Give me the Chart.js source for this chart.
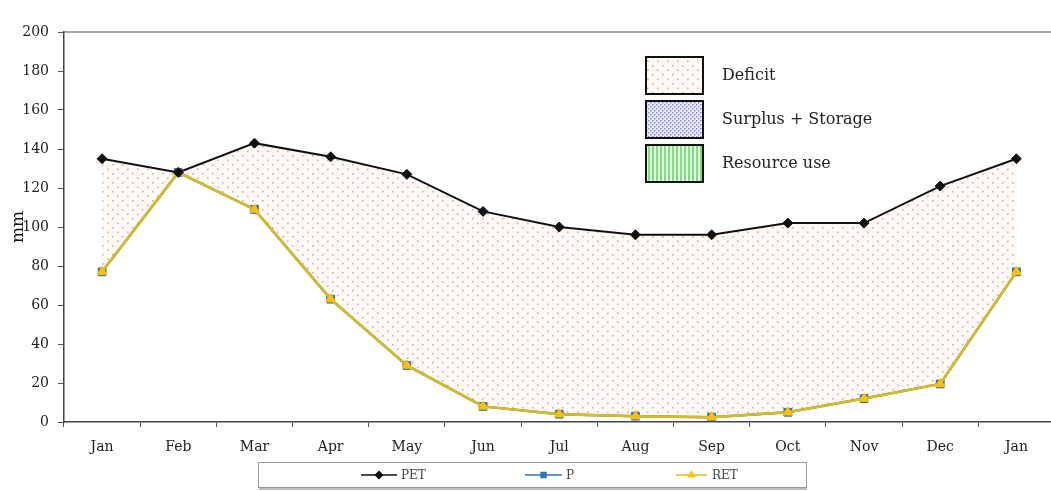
<!DOCTYPE html>
<html>
<head>
<meta charset="utf-8">
<script src="https://cdn.jsdelivr.net/npm/chart.js@4.4.1/dist/chart.umd.min.js"></script>
<style>
  html, body { margin: 0; padding: 0; background: #ffffff; overflow: hidden; }
  #wrap { width: 1051px; height: 491px; overflow: hidden; }
</style>
</head>
<body>
<div id="wrap"><canvas id="c" width="1061" height="491"></canvas></div>
<script>
// Monthly water balance: potential evapotranspiration, precipitation, real evapotranspiration
const months = ['Jan', 'Feb', 'Mar', 'Apr', 'May', 'Jun', 'Jul', 'Aug', 'Sep', 'Oct', 'Nov', 'Dec', 'Jan'];
const petValues = [135, 128, 143, 136, 127, 108, 100, 96, 96, 102, 102, 121, 135];
const pValues = [77, 128, 109, 63, 29, 8, 4, 3, 2.5, 5, 12, 19.5, 77];
const retValues = [77, 128, 109, 63, 29, 8, 4, 3, 2.5, 5, 12, 19.5, 77];
const yTicks = [0, 20, 40, 60, 80, 100, 120, 140, 160, 180, 200];

const areaLabels = ['Deficit', 'Surplus + Storage', 'Resource use'];
const seriesLabels = ['PET', 'P', 'RET'];

const FONT = '"DejaVu Serif", "Liberation Serif", serif';

// Fill patterns
function makePattern(w, h, paint) {
  const cv = document.createElement('canvas');
  cv.width = w; cv.height = h;
  const g = cv.getContext('2d');
  paint(g, w, h);
  return document.getElementById('c').getContext('2d').createPattern(cv, 'repeat');
}
const deficitPattern = makePattern(10, 9, (g, w, h) => {
  g.fillStyle = '#fffaf5'; g.fillRect(0, 0, w, h);
  g.fillStyle = 'rgba(170,125,130,0.6)';
  g.fillRect(2, 2, 1.6, 1.6);
  g.fillRect(7, 6.5, 1.6, 1.6);
});
const surplusPattern = makePattern(4, 4, (g, w, h) => {
  g.fillStyle = '#ececff'; g.fillRect(0, 0, w, h);
  g.fillStyle = '#7a7ae8';
  g.fillRect(0, 0, 1.4, 1.4);
  g.fillRect(2, 2, 1.4, 1.4);
});
const resourcePattern = makePattern(4, 4, (g, w, h) => {
  g.fillStyle = '#e6fbe6'; g.fillRect(0, 0, w, h);
  g.fillStyle = '#7fe07f';
  g.fillRect(0, 0, 2, h);
});
const areaFills = [deficitPattern, surplusPattern, resourcePattern];

const seriesStyle = {
  PET: { color: '#111111', point: 'rectRot', radius: 5, fill: '#111111', width: 2 },
  P:   { color: '#2e75b6', point: 'rect', radius: 5.5, fill: '#2e75b6', width: 2.5 },
  RET: { color: '#dcbc1c', point: 'triangle', radius: 5.5, fill: '#ffc000', width: 2.5 }
};

// Boxed legends drawn over the chart
const legendsPlugin = {
  id: 'legends',
  afterDraw(chart) {
    const ctx = chart.ctx;
    const area = chart.chartArea;
    ctx.save();

    // top border of the plot frame
    ctx.strokeStyle = '#555';
    ctx.lineWidth = 1.2;
    ctx.beginPath();
    ctx.moveTo(area.left, area.top);
    ctx.lineTo(area.right, area.top);
    ctx.stroke();

    // area legend (upper right)
    const bx = 646, bw = 57, bh = 37;
    const rows = [57, 101, 145];
    areaLabels.forEach((label, i) => {
      const y = rows[i];
      ctx.fillStyle = areaFills[i];
      ctx.fillRect(bx, y, bw, bh);
      ctx.strokeStyle = '#111';
      ctx.lineWidth = 2;
      ctx.strokeRect(bx, y, bw, bh);
      ctx.fillStyle = '#222';
      ctx.font = '16px ' + FONT;
      ctx.textAlign = 'left';
      ctx.textBaseline = 'middle';
      ctx.fillText(label, 722, y + bh / 2);
    });

    // series legend (bottom box)
    ctx.fillStyle = '#ffffff';
    ctx.fillRect(258, 462, 548, 25);
    ctx.strokeStyle = '#999';
    ctx.lineWidth = 1;
    ctx.strokeRect(258.5, 462.5, 548, 25);
    ctx.strokeStyle = '#bbb';
    ctx.lineWidth = 2;
    ctx.beginPath();
    ctx.moveTo(259, 489);
    ctx.lineTo(807, 489);
    ctx.stroke();

    const items = [
      { x0: 361, x1: 397, tx: 401 },
      { x0: 525, x1: 562, tx: 566 },
      { x0: 676, x1: 707, tx: 712 }
    ];
    const ly = 475;
    seriesLabels.forEach((name, i) => {
      const st = seriesStyle[name];
      const it = items[i];
      ctx.strokeStyle = st.color;
      ctx.lineWidth = 1.5;
      ctx.beginPath();
      ctx.moveTo(it.x0, ly);
      ctx.lineTo(it.x1, ly);
      ctx.stroke();
      ctx.fillStyle = st.fill;
      ctx.strokeStyle = st.fill;
      Chart.helpers.drawPoint(ctx, { pointStyle: st.point, radius: 3.5, borderWidth: 1 }, (it.x0 + it.x1) / 2, ly);
      ctx.fillStyle = '#444';
      ctx.font = '12px ' + FONT;
      ctx.textAlign = 'left';
      ctx.textBaseline = 'middle';
      ctx.fillText(name, it.tx, ly + 1);
    });
    ctx.restore();
  }
};

function lineDataset(name, values, extra) {
  const st = seriesStyle[name];
  return Object.assign({
    label: name,
    data: values,
    borderColor: st.color,
    borderWidth: st.width,
    pointStyle: st.point,
    pointRadius: st.radius,
    pointBackgroundColor: st.fill,
    pointBorderColor: st.fill,
    pointBorderWidth: 1,
    tension: 0,
    fill: false
  }, extra || {});
}

new Chart(document.getElementById('c'), {
  type: 'line',
  data: {
    labels: months,
    datasets: [
      lineDataset('PET', petValues, { order: 1, fill: { target: 2 }, backgroundColor: deficitPattern }),
      lineDataset('RET', retValues, { order: 2 }),
      lineDataset('P', pValues, { order: 3 })
    ]
  },
  options: {
    responsive: false,
    animation: false,
    devicePixelRatio: 1,
    layout: { padding: { top: 32, right: 0, bottom: 0, left: 0 } },
    plugins: {
      legend: { display: false },
      tooltip: { enabled: false },
      // paint the deficit area beneath every line
      filler: { propagate: false, drawTime: 'beforeDatasetsDraw' }
    },
    scales: {
      x: {
        type: 'category',
        offset: true,
        grid: { display: true, drawOnChartArea: false, offset: true, tickLength: 5, color: '#555', lineWidth: 1 },
        border: { display: true, color: '#444', width: 1.5 },
        ticks: { color: '#222', font: { family: FONT, size: 14 }, padding: 12, maxRotation: 0, autoSkip: false },
        afterFit(s) { s.height = 69; }
      },
      y: {
        min: 0,
        max: 200,
        afterBuildTicks(s) { s.ticks = yTicks.map(v => ({ value: v })); },
        grid: { display: true, drawOnChartArea: false, tickLength: 6, color: '#555', lineWidth: 1 },
        border: { display: true, color: '#444', width: 1.5 },
        ticks: { color: '#222', font: { family: FONT, size: 14 }, padding: 9 },
        title: { display: true, text: 'mm', color: '#111', font: { family: FONT, size: 17 }, padding: { top: 8, bottom: 0 } },
        afterFit(s) { s.width = 64; }
      }
    }
  },
  plugins: [legendsPlugin]
});
</script>
</body>
</html>
